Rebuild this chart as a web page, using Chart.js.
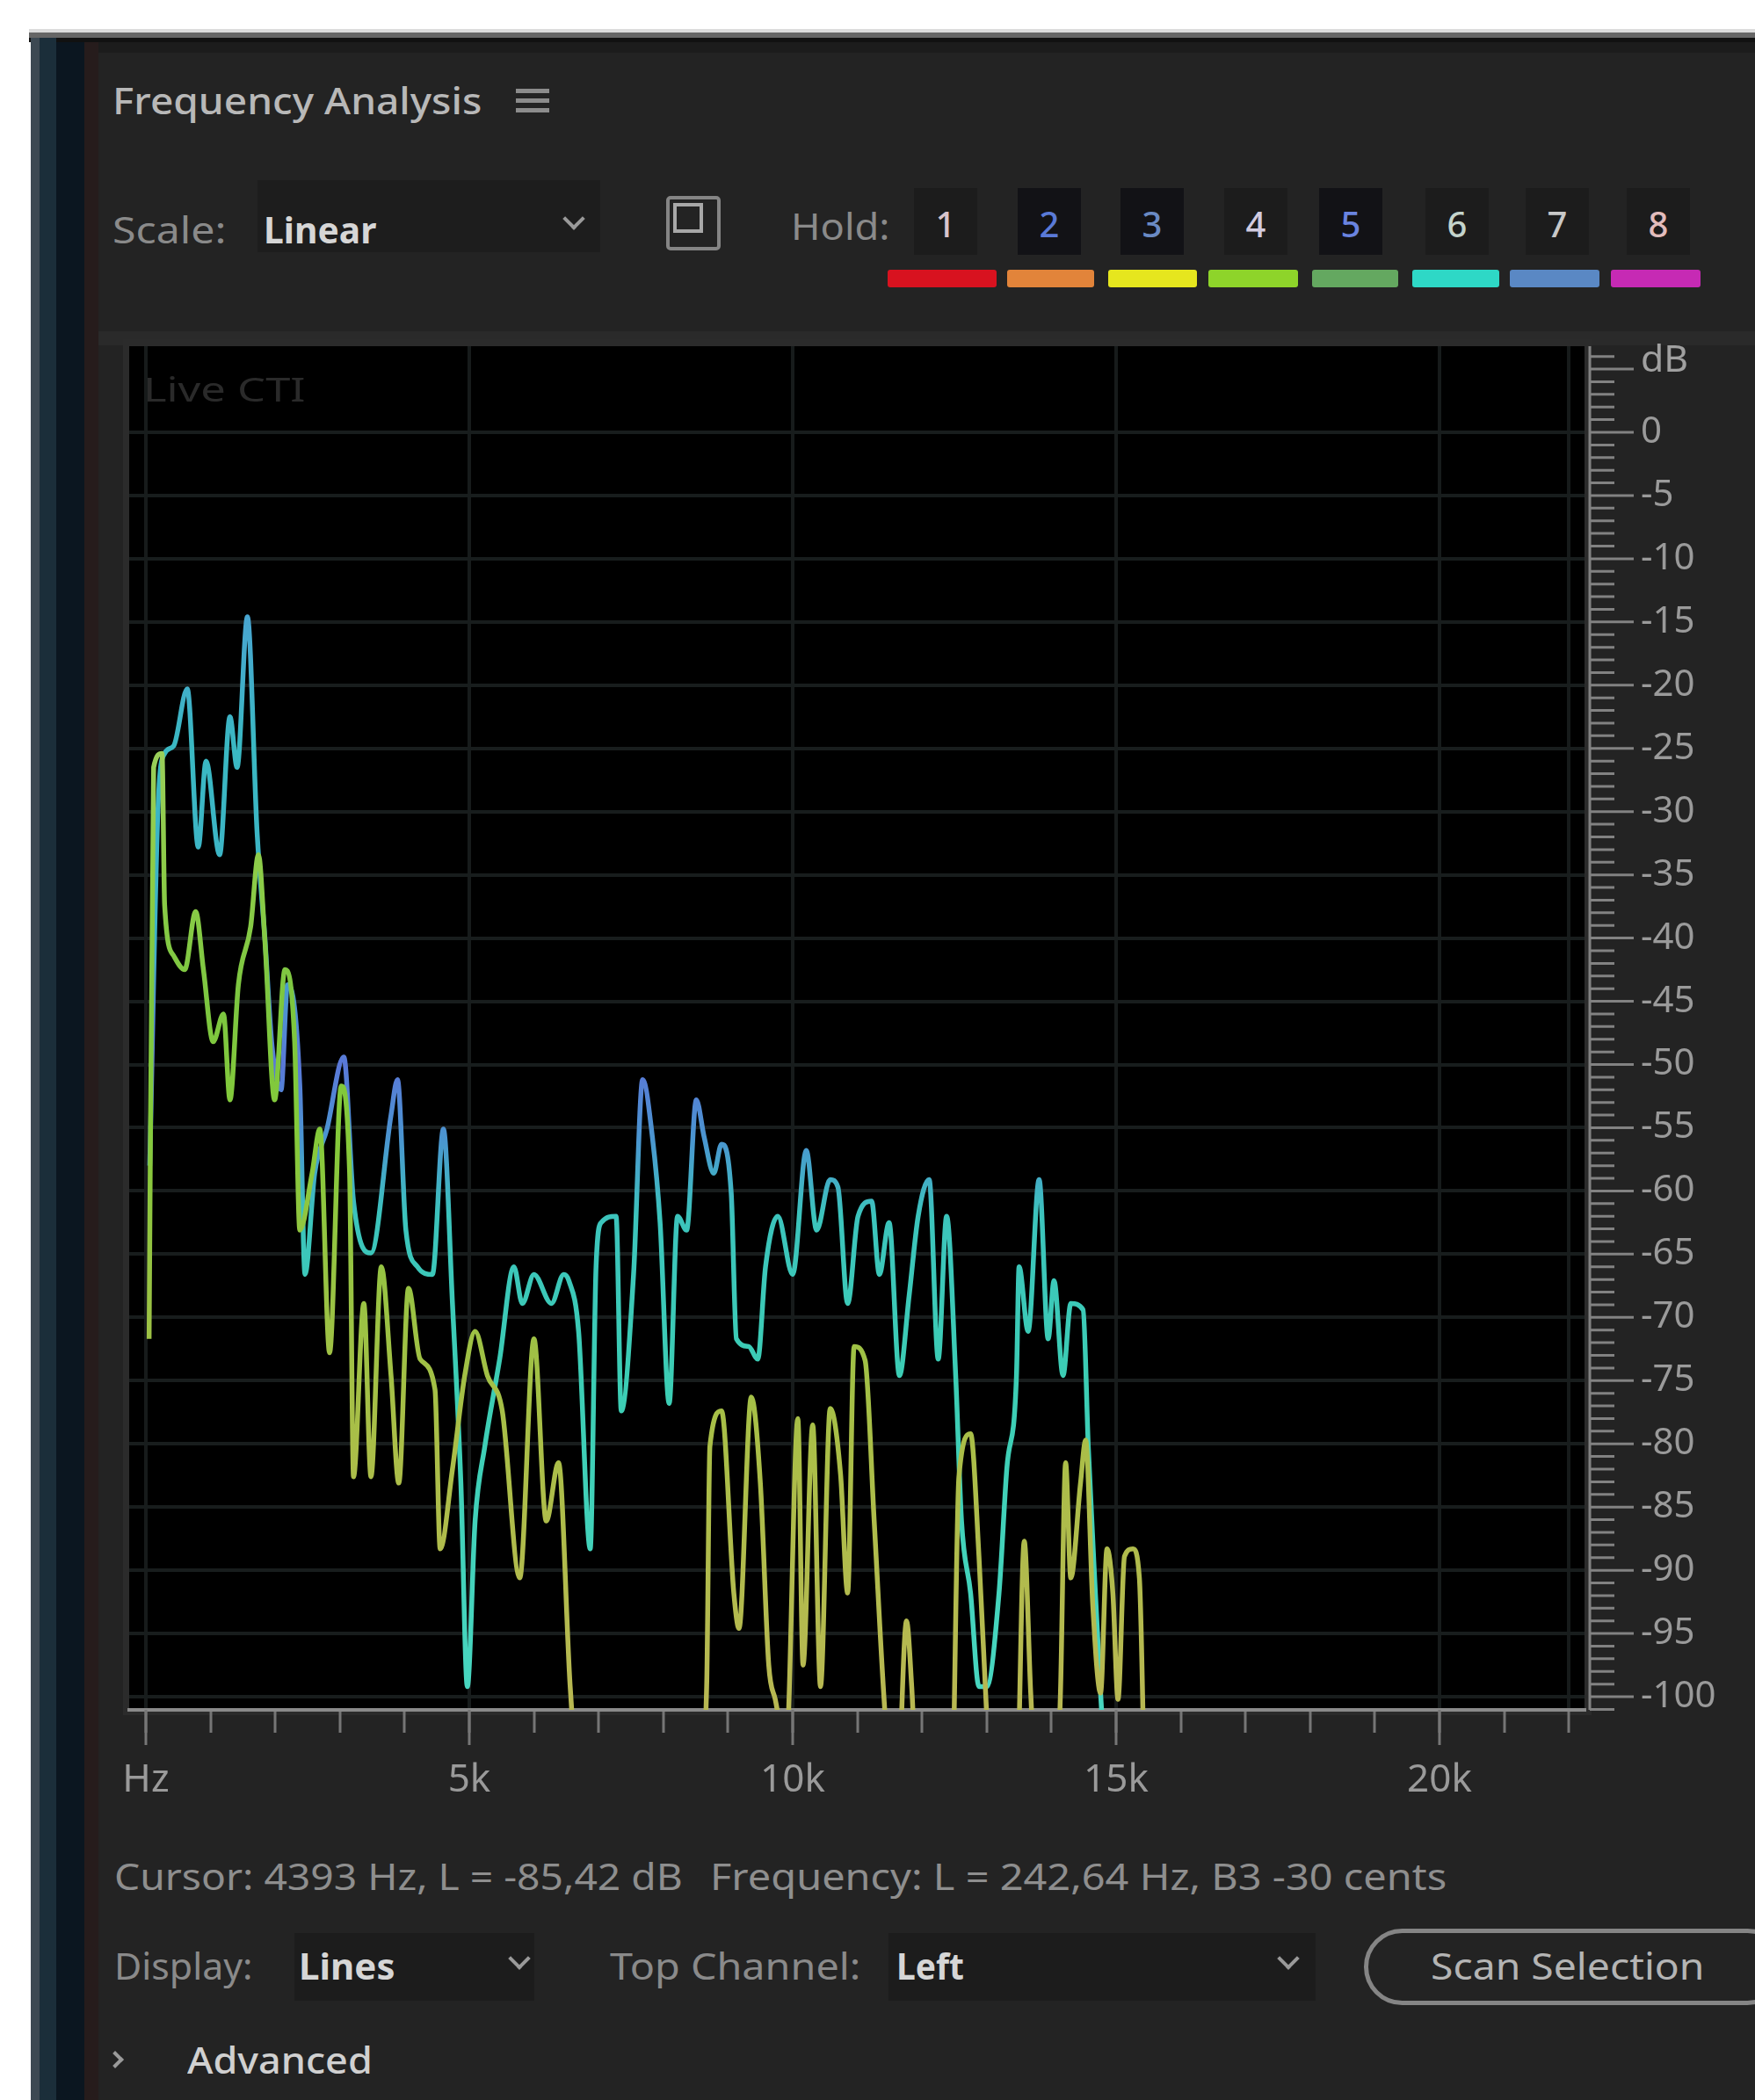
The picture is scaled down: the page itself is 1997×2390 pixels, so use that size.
<!DOCTYPE html>
<html>
<head>
<meta charset="utf-8">
<title>Frequency Analysis</title>
<script src="https://cdn.jsdelivr.net/npm/chart.js@4.4.1/dist/chart.umd.min.js"></script>
<style>
  html, body { margin: 0; padding: 0; background: #ffffff; width: 1997px; height: 2390px; overflow: hidden;
               font-family: "Noto Sans", "Open Sans", sans-serif; }
  .abs { position: absolute; }
  .t { position: absolute; white-space: nowrap; line-height: 1; transform-origin: left center; }
  #c { position: absolute; left: 0; top: 0; z-index: 1; }
  .over { z-index: 2; }
  .chev { position: absolute; width: 14px; height: 14px; border-right: 4px solid #9a9a9a;
          border-bottom: 4px solid #9a9a9a; transform: rotate(45deg); }
</style>
</head>
<body>
<div id="ui"></div>
<canvas id="c" width="1997" height="2100"></canvas>
<script>
// ---- spectrum data: frequency (Hz) and level (dB) ----
const leftHz = [50,120,250,290,430,600,770,890,1040,1200,1300,1430,1620,1740,1840,1990,2150,2300,2380,2570,2690,2840,3020,3150,3210,3370,3480,3640,3790,3910,4060,4240,4470,4550,4740,4930,5090,5280,5510,5780,6000,6190,6380,6560,6750,8500,8670,8720,8900,9090,9170,9360,9500,9630,9730,9900,10080,10160,10310,10430,10580,10740,10850,10950,11120,11260,11430,11600,11760,11840,11950,12450,12570,12750,12880,13000,13100,13450,13580,13680,13800,14050,14140,14220,14300,14450,14530,14640,14760,14860,14950,15030,15130,15260,15360,15450];
const leftDb = [-71.7,-26.5,-25.4,-37.4,-41.4,-42.5,-37.9,-42.5,-48.2,-46.0,-52.8,-43.7,-39.1,-33.4,-40.2,-52.8,-42.5,-48.2,-63.1,-58.6,-55.1,-72.8,-51.7,-58.6,-82.6,-68.9,-82.6,-66.0,-74.6,-83.1,-67.7,-73.3,-75.7,-88.3,-82.0,-74.6,-71.1,-74.6,-77.4,-90.6,-71.7,-86.1,-81.5,-99.2,-110,-110,-99.2,-80.2,-77.4,-91.8,-94.6,-76.3,-83.1,-97.5,-100.2,-104,-78.0,-97.5,-78.5,-99.2,-77.2,-82.4,-91.8,-72.3,-73.4,-86.1,-101.5,-110,-94.0,-99.2,-110,-110,-82.6,-79.2,-88.9,-101.5,-110,-110,-87.7,-99.7,-110,-110,-99.7,-81.5,-90.6,-83.1,-79.7,-92.8,-99.7,-88.3,-91.8,-100.2,-88.9,-88.3,-90.6,-110];

const rightHz = [60,190,290,430,640,810,930,1140,1300,1410,1570,1720,1840,1950,2090,2190,2380,2460,2610,2800,3060,3210,3480,3790,3890,4020,4200,4430,4600,4740,4870,4970,5090,5240,5470,5690,5820,6000,6270,6460,6540,6690,6870,6960,7040,7270,7350,7540,7680,7830,7950,8090,8220,8360,8510,8630,8780,8900,9050,9130,9320,9460,9580,9770,10000,10210,10370,10580,10700,10850,11010,11220,11340,11490,11650,11800,11940,12110,12250,12380,12520,12610,12750,12880,13000,13190,13310,13460,13500,13640,13810,13950,14040,14180,14300,14490,14570,14680,14760,14880];
const rightDb = [-58.0,-29.4,-25.4,-24.8,-20.3,-32.8,-26.0,-33.4,-22.5,-26.5,-14.6,-31.7,-40.0,-48.5,-52.0,-43.7,-51.7,-66.6,-58.6,-55.1,-49.4,-60.8,-64.9,-54.0,-51.2,-63.1,-66.0,-66.6,-55.1,-68.9,-83.1,-99.2,-86.1,-80.2,-73.3,-66.0,-68.9,-66.6,-68.9,-66.6,-67.1,-71.1,-88.3,-66.0,-62.5,-62.0,-77.4,-66.6,-51.2,-55.7,-62.5,-76.8,-62.0,-63.1,-52.8,-55.7,-58.6,-56.3,-60.2,-71.7,-72.3,-73.3,-66.0,-62.0,-66.6,-56.8,-63.1,-59.1,-59.7,-68.9,-62.0,-60.8,-66.6,-62.5,-74.6,-68.3,-62.0,-59.1,-73.3,-62.0,-74.6,-86.1,-91.8,-99.2,-99.2,-91.8,-82.0,-74.6,-66.0,-71.1,-59.1,-71.7,-67.1,-74.6,-68.9,-69.4,-80.2,-91.8,-99.7,-110];

// axis ranges and ticks
const freqMin = -258, freqMax = 22242;
const dbMin = -101.04, dbMax = 6.81;
const freqTicks = [0,1000,2000,3000,4000,5000,6000,7000,8000,9000,10000,11000,12000,13000,14000,15000,16000,17000,18000,19000,20000,21000,22000];
const freqTickValues = [0, 5000, 10000, 15000, 20000];
const freqTickLabels = ['Hz', '5k', '10k', '15k', '20k'];
const freqGridValues = [0, 5000, 10000, 15000, 20000, 22000];

// hold slots
const holdNumbers = ['1','2','3','4','5','6','7','8'];
const holdColors = ['#d8121f','#e2843a','#e6e61e','#8ed42a','#64a860','#2ed8c6','#5a88c4','#c62ab4'];

// ---- panel chrome (static UI) ----
const ui = document.getElementById('ui');
function box(l, t, w, h, css) {
  const d = document.createElement('div');
  d.className = 'abs';
  d.style.cssText += `left:${l}px;top:${t}px;width:${w}px;height:${h}px;` + (css || '');
  ui.appendChild(d); return d;
}
function text(s, x, cy, fs, w, color, weight, extra) {
  const d = document.createElement('div');
  d.className = 't' + (extra ? ' ' + extra : '');
  d.textContent = s;
  d.style.left = x + 'px';
  d.style.top = (cy - fs * 0.53) + 'px';
  d.style.fontSize = fs + 'px';
  d.style.color = color;
  d.style.fontWeight = weight || 400;
  if (w) d.dataset.w = w;
  ui.appendChild(d); return d;
}
function textC(s, cx, cy, fs, color, weight) {
  const d = text(s, 0, cy, fs, 0, color, weight);
  d.dataset.cx = cx;
  return d;
}
function chevron(l, t, rot, size) {
  const d = document.createElement('div');
  d.className = 'chev';
  d.style.left = l + 'px'; d.style.top = t + 'px';
  if (size) { d.style.width = size + 'px'; d.style.height = size + 'px'; }
  d.style.transform = `rotate(${rot}deg)`;
  ui.appendChild(d);
}

// window frame
box(33, 33, 1964, 4, 'background:#dcdcdc;');
box(33, 37, 1964, 6, 'background:#666;');
box(33, 43, 1964, 5, 'background:#111;');
box(35, 48, 1962, 2342, 'background:#232323;');
box(35, 48, 1962, 12, 'background:#1c1c1c;');
box(35, 43, 10, 2347, 'background:#3c4852;');
box(45, 43, 19, 2347, 'background:#1b2e3a;');
box(64, 48, 32, 2342, 'background:#0b1620;');
box(96, 48, 16, 2342, 'background:#261c1c;');

// title row
text('Frequency Analysis', 128, 115, 42, 420, '#b8b8b8', 500);
box(587, 101, 38, 5, 'background:#8c8c8c;');
box(587, 112, 38, 5, 'background:#8c8c8c;');
box(587, 123, 38, 5, 'background:#8c8c8c;');

// scale row
text('Scale:', 128, 262, 42, 130, '#8a8a8a');
box(293, 205, 390, 82, 'background:#1d1d1d;');
text('Linear', 300, 262, 42, 128, '#d6d6d6', 700);
chevron(644, 240, 45);
box(758, 223, 62, 62, 'box-sizing:border-box;border:4px solid #858585;border-radius:5px;');
box(766, 231, 34, 34, 'box-sizing:border-box;border:4px solid #a8a8a8;');
text('Hold:', 900, 258, 42, 112, '#8a8a8a');

const holdCenters = [1076, 1194, 1311, 1429, 1537, 1658, 1772, 1887];
const holdTextColors = ['#d8c4cc','#5a7ad8','#6a8ac4','#d2cce0','#6a84e0','#c4d4cc','#c8c8c8','#e2bcbc'];
const barLeft = [1010, 1146, 1261, 1375, 1493, 1607, 1718, 1833];
const barRight = [1134, 1245, 1362, 1477, 1591, 1706, 1820, 1935];
holdNumbers.forEach((n, i) => {
  const active = (i === 1 || i === 2 || i === 4);
  box(holdCenters[i] - 36, 214, 72, 76, 'background:' + (active ? '#121216' : '#1c1c1c') + ';');
  textC(n, holdCenters[i], 256, 40, holdTextColors[i], 500);
  box(barLeft[i], 307, barRight[i] - barLeft[i], 20, 'background:' + holdColors[i] + ';border-radius:3px;');
});

// band above the plot and plot frame
box(112, 377, 1885, 16, 'background:#2a2a2a;');
box(140, 386, 1671, 1566, 'background:#2b2b2b;');

// labels over the plot
text('Live CTI', 163, 443, 38, 184, '#2a2a2a', 400, 'over');
text('dB', 1867, 408, 42, 54, '#a0a0a0', 400, 'over');

// status line
text('Cursor: 4393 Hz, L = -85,42 dB', 130, 2136, 42, 647, '#8e8e8e');
text('Frequency: L = 242,64 Hz, B3 -30 cents', 808, 2136, 42, 838, '#8e8e8e');

// display row
text('Display:', 130, 2238, 42, 158, '#8a8a8a');
box(335, 2200, 273, 77, 'background:#1c1c1c;');
text('Lines', 340, 2238, 42, 110, '#d6d6d6', 700);
chevron(582, 2220, 45);
text('Top Channel:', 694, 2238, 42, 285, '#8a8a8a');
box(1011, 2200, 486, 77, 'background:#1c1c1c;');
text('Left', 1020, 2238, 42, 77, '#d6d6d6', 700);
chevron(1457, 2220, 45);
box(1552, 2195, 480, 87, 'box-sizing:border-box;border:5px solid #858585;border-radius:44px;');
text('Scan Selection', 1628, 2238, 42, 311, '#b4b4b4');

// advanced
chevron(124, 2337, -45, 10);
text('Advanced', 213, 2345, 42, 211, '#d0d0d0', 500);

function fitTexts() {
  document.querySelectorAll('.t').forEach(el => {
    const w = el.offsetWidth;
    if (el.dataset.w) el.style.transform = `scaleX(${el.dataset.w / w})`;
    if (el.dataset.cx) el.style.left = (el.dataset.cx - w / 2) + 'px';
  });
}

// ---- chart ----
Chart.defaults.font.family = '"Noto Sans", "Open Sans", sans-serif';

const greenStops = [[0,'#a6d478'],[-25,'#9ace5a'],[-35,'#8ccc48'],[-45,'#7cc640'],[-55,'#84ca3a'],[-65,'#94c442'],[-80,'#aabe48'],[-100,'#b8b852']];
const blueStops  = [[0,'#3f8fd8'],[-15,'#48a6d0'],[-25,'#3ab8c2'],[-40,'#3eb2c8'],[-50,'#5a78d8'],[-56,'#4a96d0'],[-62,'#3cc4bc'],[-75,'#3ccdb4'],[-100,'#48d6c0']];

function levelGradient(chart, stops, fallback) {
  const {ctx, chartArea, scales} = chart;
  if (!chartArea || !scales.y) return fallback;
  const y = scales.y;
  const top = y.getPixelForValue(0), bot = y.getPixelForValue(-100);
  const g = ctx.createLinearGradient(0, top, 0, bot);
  stops.forEach(([db, col]) => g.addColorStop(-db / 100, col));
  return g;
}

const plotBackground = {
  id: 'plotBackground',
  beforeDraw(chart) {
    const {ctx, chartArea: a} = chart;
    ctx.save();
    ctx.fillStyle = '#000000';
    ctx.fillRect(a.left, a.top, a.right - a.left, a.bottom - a.top);
    ctx.restore();
  }
};

const rulers = {
  id: 'rulers',
  afterDraw(chart) {
    const {ctx, chartArea: a, scales: {x, y}} = chart;
    ctx.save();
    ctx.strokeStyle = '#828282';
    ctx.lineWidth = 3;
    const x0 = a.right + 6;
    ctx.beginPath();
    ctx.moveTo(x0, a.top); ctx.lineTo(x0, a.bottom);
    for (let v = Math.floor(y.max); v >= Math.ceil(y.min); v--) {
      const py = y.getPixelForValue(v);
      ctx.moveTo(x0, py); ctx.lineTo(x0 + (v % 5 === 0 ? 50 : 28), py);
    }
    ctx.stroke();
    // longer ticks at labelled frequencies
    ctx.strokeStyle = '#767676';
    ctx.beginPath();
    freqTickValues.forEach(v => {
      const px = x.getPixelForValue(v);
      ctx.moveTo(px, a.bottom); ctx.lineTo(px, a.bottom + 40);
    });
    ctx.stroke();
    ctx.restore();
  }
};

const toPoints = (xs, ys) => xs.map((f, i) => ({x: f, y: ys[i]}));

new Chart(document.getElementById('c'), {
  type: 'line',
  data: {
    datasets: [
      { label: 'Left', data: toPoints(leftHz, leftDb),
        borderColor: ctx => levelGradient(ctx.chart, greenStops, '#8cc848'),
        borderWidth: 5.5, pointRadius: 0, fill: false, cubicInterpolationMode: 'monotone' },
      { label: 'Right', data: toPoints(rightHz, rightDb),
        borderColor: ctx => levelGradient(ctx.chart, blueStops, '#40b8c4'),
        borderWidth: 5.5, pointRadius: 0, fill: false, cubicInterpolationMode: 'monotone' }
    ]
  },
  options: {
    responsive: false,
    devicePixelRatio: 1,
    animation: false,
    layout: { padding: { left: 147, top: 394, right: 0, bottom: 0 } },
    plugins: { legend: { display: false }, tooltip: { enabled: false }, title: { display: false } },
    scales: {
      x: {
        type: 'linear', position: 'bottom', min: freqMin, max: freqMax,
        afterFit: s => { s.height = 154; },
        afterBuildTicks: s => { s.ticks = freqTicks.map(v => ({value: v})); },
        border: { display: true, color: '#8a8a8a', width: 4 },
        grid: {
          color: c => freqGridValues.includes(c.tick && c.tick.value) ? '#171b1b' : 'rgba(0,0,0,0)',
          lineWidth: 4, drawTicks: true, tickLength: 26, tickColor: '#767676', tickWidth: 3
        },
        ticks: {
          autoSkip: false, maxRotation: 0, padding: 28,
          color: '#9a9a9a', font: { size: 44 },
          callback: v => { const i = freqTickValues.indexOf(v); return i >= 0 ? freqTickLabels[i] : ''; }
        }
      },
      y: {
        type: 'linear', position: 'right', min: dbMin, max: dbMax,
        afterFit: s => { s.width = 194; },
        border: { display: false },
        grid: {
          color: c => (c.tick && c.tick.value <= 0) ? '#181d1d' : 'rgba(0,0,0,0)',
          lineWidth: 4, drawTicks: false
        },
        ticks: {
          stepSize: 5, includeBounds: false, padding: 64,
          color: '#9a9a9a', font: { size: 42 },
          callback: v => v > 0 ? '' : String(v)
        }
      }
    }
  },
  plugins: [plotBackground, rulers]
});

fitTexts();
if (document.fonts && document.fonts.ready) document.fonts.ready.then(fitTexts);
</script>
</body>
</html>
